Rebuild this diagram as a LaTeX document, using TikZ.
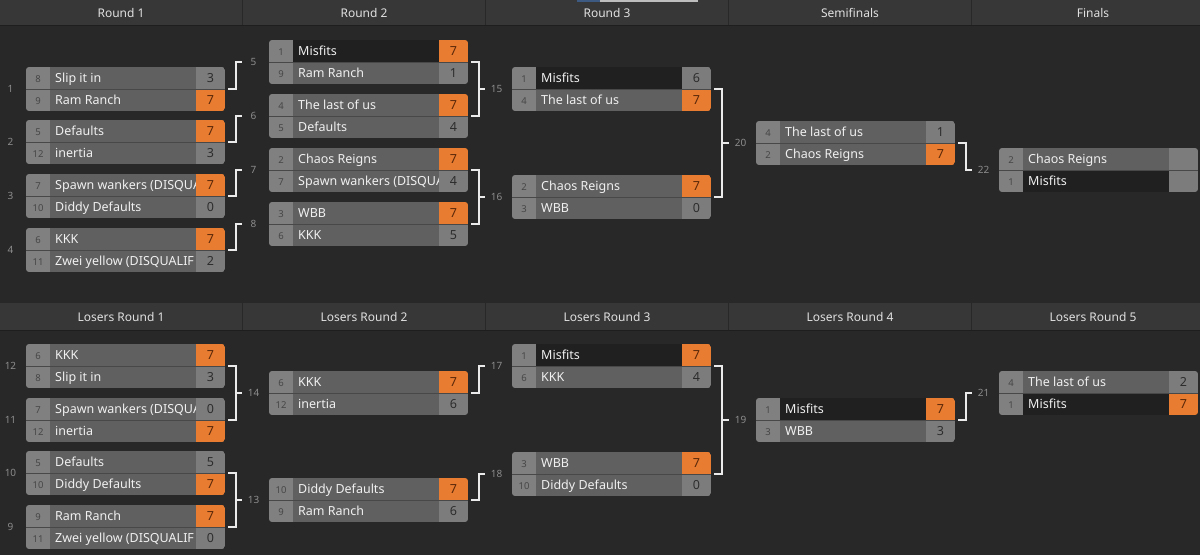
\documentclass[tikz,border=0pt]{standalone}
\usepackage{fontspec}
\setmainfont{Noto Sans}
\usetikzlibrary{calc}

\definecolor{pagebg}{RGB}{40,40,40}
\definecolor{headbg}{RGB}{55,55,55}
\definecolor{headline}{RGB}{30,30,30}
\definecolor{seedcell}{RGB}{128,128,128}
\definecolor{namecell}{RGB}{96,96,96}
\definecolor{scorecell}{RGB}{124,124,124}
\definecolor{darkrow}{RGB}{32,32,32}
\definecolor{winorange}{RGB}{232,124,48}
\definecolor{seedink}{RGB}{70,70,70}
\definecolor{scoreink}{RGB}{45,45,45}
\definecolor{winink}{RGB}{90,40,10}
\definecolor{labelgray}{RGB}{140,140,140}
\definecolor{sepline}{RGB}{72,72,72}
\definecolor{barlight}{RGB}{190,190,190}
\definecolor{barblue}{RGB}{60,90,130}

\tikzset{
  headtxt/.style={text=white!88!black, font=\fontsize{12}{14}\selectfont},
  headsep/.style={draw=pagebg, line width=1pt},
  headrule/.style={draw=headline, line width=1pt},
  seednum/.style={text=seedink, font=\fontsize{9.5}{11}\selectfont, text height=1.5ex, text depth=.25ex, inner sep=0},
  teamname/.style={anchor=west, text=white!94!black, font=\fontsize{12.5}{14}\selectfont, text height=1.5ex, text depth=.25ex, inner sep=0},
  scorenum/.style={font=\fontsize{12.5}{14}\selectfont, text height=1.5ex, text depth=.25ex, inner sep=0},
  rowsep/.style={draw=sepline, line width=0.8pt},
  matchframe/.style={minimum width=199pt, minimum height=44pt, inner sep=0},
  matchnum/.style={text=labelgray, font=\fontsize{10}{12}\selectfont, minimum width=16pt, inner sep=0},
  bracket/.style={draw=white!92!black, line width=1.8pt, shorten >=3pt},
  feed/.style={bracket, shorten <=3pt},
}

% marked team and winning score
\def\markedteam{Misfits}
\def\winscore{7}

% one row of a match: name, x, y (top), seed, team, score
\newcommand{\teamrow}[6]{%
  \edef\rowteam{#5}\edef\rowscore{#6}%
  \ifx\rowteam\markedteam \def\rowfill{darkrow}\else \def\rowfill{namecell}\fi
  \ifx\rowscore\winscore \def\scorefill{winorange}\def\scoretint{winink}\else \def\scorefill{scorecell}\def\scoretint{scoreink}\fi
  \fill[seedcell] (#2,#3) rectangle ++(24,22);
  \fill[fill=\rowfill] (#2+24,#3) rectangle ++(146,22);
  \node[seednum] (#1s) at (#2+12,#3+11.8) {#4};
  \node[teamname] (#1t) at (#2+29,#3+11.8) {#5};
  \fill[fill=\scorefill] (#2+170,#3) rectangle ++(29,22);
  \node[scorenum, text=\scoretint] (#1p) at (#2+184.5,#3+11.8) {#6};
}

% a match: id, x, y (top), top row seed/team/score, bottom row seed/team/score
\newcommand{\matchbox}[9]{%
  \begin{scope}
    \clip[rounded corners=3pt] (#2,#3) rectangle ++(199,44);
    \teamrow{m#1a}{#2}{#3}{#4}{#5}{#6}
    \teamrow{m#1b}{#2}{#3+22}{#7}{#8}{#9}
    \draw[rowsep] (#2,#3+22) -- ++(199,0);
  \end{scope}
  \node[matchframe] (m#1) at (#2+99.5,#3+22) {};
  \node[matchnum] (l#1) at (#2-15.5,#3+22) {#1};
}

\begin{document}
\begin{tikzpicture}[x=1pt, y=-1pt]
  \useasboundingbox (0,0) rectangle (1200,555);
  \fill[pagebg] (0,0) rectangle (1200,555);

  % Round headers
  \fill[headbg] (0,0) rectangle (1200,25);
  \fill[headbg] (0,303) rectangle (1200,330);
  \foreach \sx in {242.5,485.5,728.5,971.5} {
    \draw[headsep] (\sx,0) -- (\sx,25);
    \draw[headsep] (\sx,303) -- (\sx,330);
  }
  \draw[headrule] (0,25) -- (1200,25);
  \draw[headrule] (0,330) -- (1200,330);
  \fill[barlight] (577,0) rectangle (698,1.5);
  \fill[barblue] (577,0) rectangle (600,1.5);
  \foreach \i/\cx/\t in {1/121/Round 1, 2/364/Round 2, 3/607/Round 3, 4/850/Semifinals, 5/1093/Finals}
    \node[headtxt] (h\i) at (\cx,13) {\t};
  \foreach \i/\cx in {1/121, 2/364, 3/607, 4/850, 5/1093}
    \node[headtxt] (lh\i) at (\cx,317) {Losers Round \i};

  % Winners bracket
  \matchbox{1}{26}{67}{8}{Slip it in}{3}{9}{Ram Ranch}{7}
  \matchbox{2}{26}{120}{5}{Defaults}{7}{12}{inertia}{3}
  \matchbox{3}{26}{174}{7}{Spawn wankers (DISQUA}{7}{10}{Diddy Defaults}{0}
  \matchbox{4}{26}{228}{6}{KKK}{7}{11}{Zwei yellow (DISQUALIF}{2}
  \matchbox{5}{269}{40}{1}{Misfits}{7}{9}{Ram Ranch}{1}
  \matchbox{6}{269}{94}{4}{The last of us}{7}{5}{Defaults}{4}
  \matchbox{7}{269}{148}{2}{Chaos Reigns}{7}{7}{Spawn wankers (DISQUA}{4}
  \matchbox{8}{269}{202}{3}{WBB}{7}{6}{KKK}{5}
  \matchbox{15}{512}{67}{1}{Misfits}{6}{4}{The last of us}{7}
  \matchbox{16}{512}{175}{2}{Chaos Reigns}{7}{3}{WBB}{0}
  \matchbox{20}{756}{121}{4}{The last of us}{1}{2}{Chaos Reigns}{7}
  \matchbox{22}{999}{148}{2}{Chaos Reigns}{}{1}{Misfits}{}

  % Losers bracket
  \matchbox{12}{26}{344}{6}{KKK}{7}{8}{Slip it in}{3}
  \matchbox{11}{26}{398}{7}{Spawn wankers (DISQUA}{0}{12}{inertia}{7}
  \matchbox{10}{26}{451}{5}{Defaults}{5}{10}{Diddy Defaults}{7}
  \matchbox{9}{26}{505}{9}{Ram Ranch}{7}{11}{Zwei yellow (DISQUALIF}{0}
  \matchbox{14}{269}{371}{6}{KKK}{7}{12}{inertia}{6}
  \matchbox{13}{269}{478}{10}{Diddy Defaults}{7}{9}{Ram Ranch}{6}
  \matchbox{17}{512}{344}{1}{Misfits}{7}{6}{KKK}{4}
  \matchbox{18}{512}{452}{3}{WBB}{7}{10}{Diddy Defaults}{0}
  \matchbox{19}{756}{398}{1}{Misfits}{7}{3}{WBB}{3}
  \matchbox{21}{999}{371}{4}{The last of us}{2}{1}{Misfits}{7}

  % single feeds
  \foreach \a/\b in {1/5, 2/6, 3/7, 4/8, 20/22, 14/17, 13/18, 19/21}
    \draw[feed] (m\a.east) -- ++(11,0) |- (l\b);

  % two feeds into one match
  \foreach \a/\b/\c in {5/6/15, 7/8/16, 15/16/20, 12/11/14, 10/9/13, 17/18/19} {
    \coordinate (j\c) at ($(m\a.east)!.5!(m\b.east)+(11,0)$);
    \draw[feed] (m\a.east) -| (j\c) |- (m\b.east);
    \draw[bracket] (j\c) -- (l\c);
  }
\end{tikzpicture}
\end{document}
